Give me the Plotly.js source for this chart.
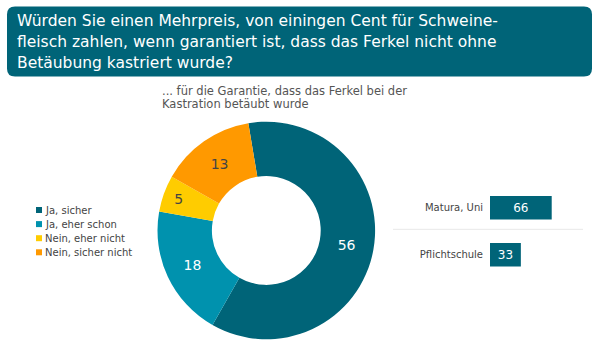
<!DOCTYPE html>
<html>
<head>
<meta charset="utf-8">
<script src="https://cdn.plot.ly/plotly-3.0.1.min.js"></script>
<style>html,body{margin:0;padding:0;background:#fff}#chart{width:600px;height:354px}</style>
</head>
<body>
<div id="chart"></div>
<script>
// ---- data ----
var titleLines = [
  "Würden Sie einen Mehrpreis, von einingen Cent für Schweine-",
  "fleisch zahlen, wenn garantiert ist, dass das Ferkel nicht ohne",
  "Betäubung kastriert wurde?"
];
var subtitleLines = [
  "... für die Garantie, dass das Ferkel bei der",
  "Kastration betäubt wurde"
];
var pieLabels = ["Ja, sicher", "Ja, eher schon", "Nein, eher nicht", "Nein, sicher nicht"];
var pieValues = [56, 18, 5, 13];
var pieColors = ["#006478", "#0092AE", "#FFCC00", "#FF9900"];
var pieTextColors = ["#ffffff", "#ffffff", "#444444", "#444444"];
var barCategories = ["Matura, Uni", "Pflichtschule"];
var barValues = [66, 33];
var barColor = "#006478";

// ---- helpers ----
var W = 600, H = 354;
function px(x){ return x / W; }
function py(y){ return 1 - y / H; }

function roundedRectPath(x0, y0, x1, y1, r){
  var p = [];
  p.push("M " + px(x0 + r) + " " + py(y0));
  p.push("L " + px(x1 - r) + " " + py(y0));
  p.push("Q " + px(x1) + " " + py(y0) + " " + px(x1) + " " + py(y0 + r));
  p.push("L " + px(x1) + " " + py(y1 - r));
  p.push("Q " + px(x1) + " " + py(y1) + " " + px(x1 - r) + " " + py(y1));
  p.push("L " + px(x0 + r) + " " + py(y1));
  p.push("Q " + px(x0) + " " + py(y1) + " " + px(x0) + " " + py(y1 - r));
  p.push("L " + px(x0) + " " + py(y0 + r));
  p.push("Q " + px(x0) + " " + py(y0) + " " + px(x0 + r) + " " + py(y0));
  p.push("Z");
  return p.join(" ");
}

var FONT = "DejaVu Sans, Verdana, sans-serif";

var pieTrace = {
  type: "pie",
  labels: pieLabels,
  values: pieValues,
  sort: false,
  direction: "clockwise",
  rotation: -9.5,
  hole: 0.5,
  marker: { colors: pieColors, line: { width: 0 } },
  textinfo: "value",
  textposition: "inside",
  insidetextorientation: "horizontal",
  textfont: { family: FONT, size: 14, color: pieTextColors },
  domain: { x: [px(157.3), px(375.3)], y: [py(339.3), py(121.7)] },
  showlegend: false,
  hoverinfo: "label+value"
};

var barTrace = {
  type: "bar",
  orientation: "h",
  x: barValues,
  y: barCategories,
  xaxis: "x",
  yaxis: "y",
  width: 0.5,
  marker: { color: barColor },
  text: barValues.map(String),
  textposition: "inside",
  insidetextanchor: "middle",
  constraintext: "none",
  textfont: { family: FONT, size: 12, color: "#ffffff" },
  showlegend: false,
  hoverinfo: "y+x"
};

var shapes = [];
var annotations = [];

// title box
shapes.push({
  type: "path", xref: "paper", yref: "paper",
  path: roundedRectPath(7, 6.5, 592, 76.5, 8),
  fillcolor: "#006478", line: { width: 0 }, layer: "below"
});
// title lines
titleLines.forEach(function(t, i){
  annotations.push({
    xref: "paper", yref: "paper", x: px(14.5), y: py(28 + i * 20.8),
    xanchor: "left", yanchor: "bottom", yshift: -4,
    text: t, showarrow: false, align: "left",
    font: { family: FONT, size: 15.5, color: "#ffffff" }
  });
});
// subtitle lines
subtitleLines.forEach(function(t, i){
  annotations.push({
    xref: "paper", yref: "paper", x: px(160), y: py(97.5 + i * 12),
    xanchor: "left", yanchor: "bottom", yshift: -3,
    text: t, showarrow: false, align: "left",
    font: { family: FONT, size: 11.5, color: "#555555" }
  });
});
// legend
pieLabels.forEach(function(lab, i){
  var cy = 210 + i * 14.1;
  shapes.push({
    type: "rect", xref: "paper", yref: "paper",
    x0: px(36), x1: px(42), y0: py(cy + 3), y1: py(cy - 3),
    fillcolor: pieColors[i], line: { width: 0 }
  });
  annotations.push({
    xref: "paper", yref: "paper", x: px(42.5), y: py(cy),
    xanchor: "left", yanchor: "middle",
    text: lab, showarrow: false,
    font: { family: FONT, size: 10, color: "#444444" }
  });
});
// separator between bar rows
shapes.push({
  type: "line", xref: "paper", yref: "paper",
  x0: px(393), x1: px(583), y0: py(229.3), y1: py(229.3),
  line: { color: "#e8e8e8", width: 1 }
});

var layout = {
  width: W, height: H,
  margin: { l: 0, r: 0, t: 0, b: 0 },
  paper_bgcolor: "#ffffff",
  plot_bgcolor: "rgba(0,0,0,0)",
  showlegend: false,
  font: { family: FONT, color: "#444444" },
  xaxis: {
    domain: [px(490), px(583.5)], range: [0, 100],
    visible: false, fixedrange: true
  },
  yaxis: {
    domain: [py(278.2), py(184.2)],
    autorange: "reversed",
    showgrid: false, zeroline: false, showline: false,
    ticks: "outside", ticklen: 4, tickcolor: "rgba(0,0,0,0)",
    tickfont: { family: FONT, size: 10, color: "#444444" },
    fixedrange: true
  },
  bargap: 0.5,
  shapes: shapes,
  annotations: annotations
};

Plotly.newPlot("chart", [pieTrace, barTrace], layout, { displayModeBar: false, staticPlot: true });
</script>
</body>
</html>
